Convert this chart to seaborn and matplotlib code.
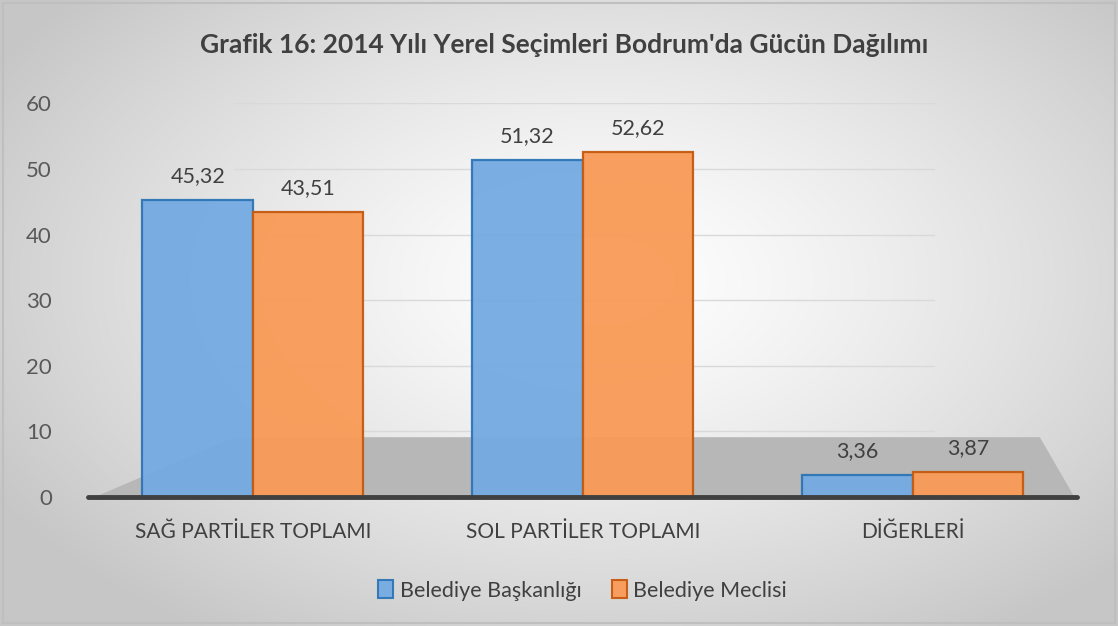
import numpy as np
import pandas as pd
import matplotlib
matplotlib.use("Agg")
import matplotlib.pyplot as plt
import seaborn as sns
from matplotlib.patches import Polygon, Rectangle

categories = ["SAĞ PARTİLER TOPLAMI", "SOL PARTİLER TOPLAMI", "DİĞERLERİ"]
baskanlik = [45.32, 51.32, 3.36]
meclis = [43.51, 52.62, 3.87]
series_names = ["Belediye Başkanlığı", "Belediye Meclisi"]
title = "Grafik 16: 2014 Yılı Yerel Seçimleri Bodrum'da Gücün Dağılımı"
yticks = [0, 10, 20, 30, 40, 50, 60]

df = pd.DataFrame({
    "kategori": categories * 2,
    "seri": [series_names[0]] * 3 + [series_names[1]] * 3,
    "deger": baskanlik + meclis,
})

sns.set_theme(style="white")
plt.rcParams["font.family"] = ["Lato", "DejaVu Sans"]

fig = plt.figure(figsize=(11.18, 6.26), dpi=100)

# background radial gradient
bg = fig.add_axes([0, 0, 1, 1], zorder=-10)
yy, xx = np.mgrid[0:626, 0:1118]
r = np.sqrt(((xx - 600) / 700.0) ** 2 + ((yy - 280) / 420.0) ** 2)
r = np.clip(r, 0, 1)
val = 1.0 - 0.22 * r ** 1.3
bg.imshow(np.dstack([val, val, val]), extent=[0, 1, 0, 1], aspect="auto")
bg.add_patch(Rectangle((0.003, 0.005), 0.994, 0.99, fill=False, ec="#bfbfbf", lw=1.5,
                       transform=bg.transAxes))
bg.set_axis_off()

ax = fig.add_axes([0.0787, 0.206, 0.885, 0.629])
ax.patch.set_alpha(0)

colors = {"Belediye Başkanlığı": "#74ABE3", "Belediye Meclisi": "#F99A56"}
edges = ["#2E75B6", "#C55A11"]

sns.barplot(data=df, x="kategori", y="deger", hue="seri", palette=colors,
            saturation=1, width=0.67, ax=ax, alpha=0.95, zorder=3, legend=True)

for cont, ec in zip(ax.containers, edges):
    for bar in cont:
        bar.set_edgecolor(ec)
        bar.set_linewidth(1.6)
    labels = [f"{b.get_height():.2f}".replace(".", ",") for b in cont]
    ax.bar_label(cont, labels=labels, padding=10, fontsize=15.5, color="#404040")

ax.set_ylim(0, 60)
ax.set_xlim(-0.5, 2.5)
ax.set_yticks(yticks)
ax.set_yticklabels([str(t) for t in yticks], fontsize=16, color="#595959")
ax.tick_params(axis="y", length=0, pad=26)
ax.tick_params(axis="x", length=0, pad=18, labelsize=15, labelcolor="#404040")
ax.set_xlabel("")
ax.set_ylabel("")

for t in yticks[1:]:
    ax.axhline(t, xmin=0.148, xmax=0.855, color="#d9d9d9", lw=1, zorder=0)

floor = Polygon([(0.007, 0), (0.997, 0), (0.962, 0.152), (0.148, 0.152)],
                closed=True, transform=ax.transAxes, fc="#b7b7b7", ec="none", zorder=1)
ax.add_patch(floor)
ax.axhline(0, color="#404040", lw=3.5, zorder=6, clip_on=False)

for s in ax.spines.values():
    s.set_visible(False)

fig.text(0.505, 0.928, title, ha="center", va="center", fontsize=19,
         fontweight="bold", color="#404040")

handles, lbls = ax.get_legend_handles_labels()
for h, ec in zip(handles, edges):
    h.set_edgecolor(ec)
    h.set_linewidth(1.5)
ax.legend(handles, lbls, loc="center", bbox_to_anchor=(0.5, -0.237), ncol=2, frameon=False,
          fontsize=15.5, handlelength=0.7, handleheight=0.9, handletextpad=0.3,
          columnspacing=1.4, labelcolor="#404040")

fig.savefig("out.png", dpi=100)
